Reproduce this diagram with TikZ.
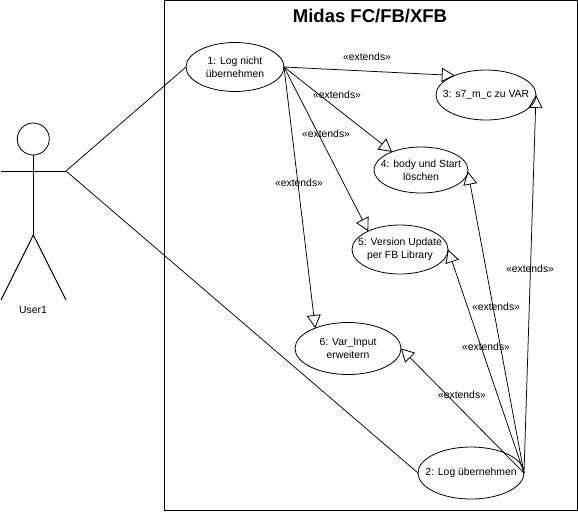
\documentclass[tikz,border=0pt]{standalone}
\usepackage{fontspec}
\setmainfont{Liberation Sans}
\usetikzlibrary{arrows.meta,shapes.geometric}
\tikzset{
  usecase/.style={draw,ellipse,line width=0.8pt,inner sep=0pt,outer sep=0pt},
  uclabel/.style={align=center,inner sep=0pt,font=\fontsize{10.4}{13}\selectfont},
  ext/.style={draw,line width=0.75pt,-{Triangle[open,length=13pt,width=14pt,line width=0.8pt]}},
  extlabel/.style={font=\fontsize{10.4}{12}\selectfont,inner sep=0pt},
  assoc/.style={draw,line width=0.75pt},
  actorline/.style={draw,line width=1pt}
}
\begin{document}
\begin{tikzpicture}[x=1pt,y=-1pt]
\useasboundingbox (0,0) rectangle (578,512);
\fill[white] (0,0) rectangle (578,512);
\draw[line width=1pt] (164,0.5) -- (577.5,0.5) -- (577.5,510) -- (164,510) -- cycle;
\node[font=\bfseries\fontsize{18.5}{20}\selectfont,inner sep=0pt] (title) at (370,16) {Midas FC/FB/XFB};

\node[usecase,minimum width=98pt,minimum height=49pt,label={[uclabel]center:1: Log nicht\\übernehmen}] (uc1) at (235,67) {};
\node[usecase,minimum width=100pt,minimum height=50pt,label={[uclabel]center:3: s7\_m\_c zu VAR}] (uc3) at (486,95) {};
\node[usecase,minimum width=94pt,minimum height=46pt,label={[uclabel]center:4: body und Start\\löschen}] (uc4) at (421,170) {};
\node[usecase,minimum width=96pt,minimum height=49pt,label={[uclabel]center:5: Version Update\\per FB Library}] (uc5) at (400,249.5) {};
\node[usecase,minimum width=106pt,minimum height=52pt,label={[uclabel]center:6: Var\_Input\\erweitern}] (uc6) at (348,348.5) {};
\node[usecase,minimum width=106pt,minimum height=52pt,label={[uclabel]center:2: Log übernehmen}] (uc2) at (471,473) {};

% actor
\draw[line width=0.8pt] (33.3,139) circle (16);
\coordinate (neck) at (33.3,155);
\coordinate (hip) at (33.3,235);
\coordinate (lhand) at (1,171);
\coordinate (rhand) at (66,171);
\coordinate (lfoot) at (1,300);
\coordinate (rfoot) at (66,300);
\draw[actorline] (neck) -- (hip);
\draw[actorline] (lhand) -- (rhand);
\draw[actorline] (lfoot) -- (hip) -- (rfoot);
\node[extlabel] (actorname) at (33,310) {User1};

\draw[assoc] (rhand) -- (uc1.west);
\draw[assoc] (rhand) -- (uc2.west);

\draw[ext] (uc1.east) -- (uc3.148);
\draw[ext] (uc1.east) -- (uc4.148);
\draw[ext] (uc1.east) -- (uc5.150);
\draw[ext] (uc1.east) -- (uc6.148);
\draw[ext] (uc2.east) -- (uc3.east);
\draw[ext] (uc2.east) -- (uc4.-2);
\draw[ext] (uc2.east) -- (uc5.east);
\draw[ext] (uc2.east) -- (uc6.east);

\node[extlabel] (l13) at (367,56.7) {«extends»};
\node[extlabel] (l14) at (337,94.7) {«extends»};
\node[extlabel] (l15) at (326,134) {«extends»};
\node[extlabel] (l16) at (299,183) {«extends»};
\node[extlabel] (l23) at (530,269) {«extends»};
\node[extlabel] (l24) at (496,307) {«extends»};
\node[extlabel] (l25) at (486,347) {«extends»};
\node[extlabel] (l26) at (462,395) {«extends»};
\end{tikzpicture}
\end{document}
